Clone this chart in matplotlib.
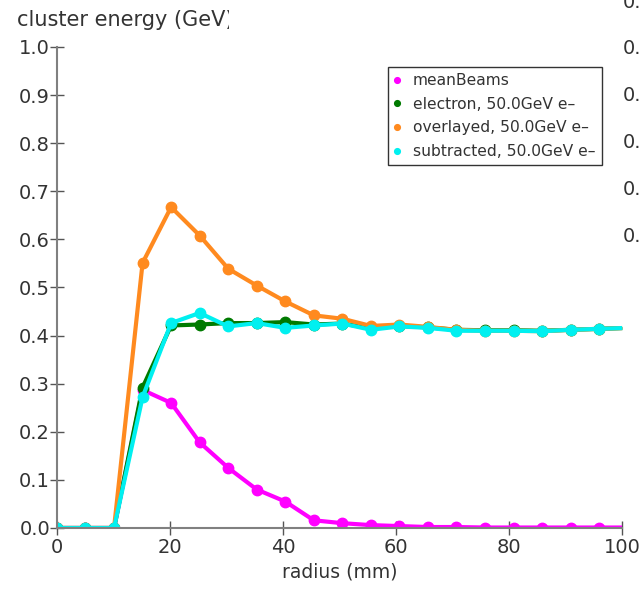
import matplotlib
matplotlib.use("Agg")
import matplotlib.pyplot as plt
from matplotlib.patches import Rectangle
import numpy as np

# radius bins (mm)
radius = [0, 5.05, 10.1, 15.15, 20.2, 25.25, 30.3, 35.35, 40.4, 45.45, 50.5,
          55.55, 60.6, 65.65, 70.7, 75.75, 80.8, 85.85, 90.9, 95.95, 101.0]

mean_beams = [0.0, 0.0, 0.0, 0.287, 0.26, 0.178, 0.125, 0.08, 0.055, 0.016, 0.010,
              0.006, 0.004, 0.002, 0.002, 0.001, 0.001, 0.001, 0.001, 0.001, 0.001]
electron = [0.0, 0.0, 0.0, 0.292, 0.421, 0.423, 0.426, 0.426, 0.428, 0.423, 0.425,
            0.415, 0.42, 0.417, 0.412, 0.411, 0.411, 0.41, 0.412, 0.414, 0.416]
overlayed = [0.0, 0.0, 0.0, 0.551, 0.667, 0.608, 0.539, 0.504, 0.471, 0.442, 0.435,
             0.42, 0.423, 0.418, 0.412, 0.41, 0.41, 0.409, 0.412, 0.414, 0.416]
subtracted = [0.0, 0.0, 0.0, 0.272, 0.426, 0.447, 0.419, 0.426, 0.416, 0.421, 0.425,
              0.412, 0.419, 0.416, 0.410, 0.410, 0.410, 0.409, 0.412, 0.414, 0.416]

series = [
    ("meanBeams", mean_beams, "#ff00ff"),
    ("electron, 50.0GeV e\u2013", electron, "#007a00"),
    ("overlayed, 50.0GeV e\u2013", overlayed, "#ff8a1f"),
    ("subtracted, 50.0GeV e\u2013", subtracted, "#00f0f0"),
]

# tick labels of the neighbouring plot that is cut off on the right
side_labels = ["0.", "0.", "0.", "0.", "0.", "0."]

plt.rcParams['font.family'] = ['DejaVu Sans']
fig = plt.figure(figsize=(6.4, 5.91), dpi=100)
ax = fig.add_axes([0.089, 0.1066, 0.883, 0.814])

for name, vals, col in series:
    ax.plot(radius, vals, color=col, lw=3, marker='o', ms=7.5, label=name,
            solid_joinstyle='round')

ax.set_xlim(0, 100)
ax.set_ylim(0, 1.0)
ax.set_xticks([0, 20, 40, 60, 80, 100])
ax.set_yticks(np.arange(0, 1.01, 0.1))
ax.yaxis.set_major_formatter(matplotlib.ticker.FormatStrFormatter('%.1f'))

for s in ['top', 'right']:
    ax.spines[s].set_visible(False)
for s in ['left', 'bottom']:
    ax.spines[s].set_color('#808080')
    ax.spines[s].set_linewidth(1.5)
ax.tick_params(axis='y', direction='inout', length=10, width=1, color='#555555',
               labelsize=14, labelcolor='#333333', pad=0)
ax.tick_params(axis='x', direction='inout', length=10, width=1, color='#555555',
               labelsize=14, labelcolor='#333333', pad=2)

ax.set_xlabel("radius (mm)", fontsize=13.5, color='#333333', labelpad=4)

# y title sits above the axis and is cut at the right like in the original
fig.text(17 / 640, 1 - 20 / 591, "cluster energy (GeV)", fontsize=15,
         color='#333333', va='center', ha='left')
fig.add_artist(Rectangle((229 / 640, 1 - 40 / 591), 60 / 640, 40 / 591,
                         transform=fig.transFigure, facecolor='white',
                         edgecolor='none', zorder=5))

leg = ax.legend(loc='upper left', bbox_to_anchor=(0.586, 0.958), borderaxespad=0,
                frameon=True, fancybox=False, fontsize=11.2, handlelength=0.4,
                handletextpad=0.8, labelspacing=0.55, borderpad=0.4,
                markerscale=0.55)
leg.get_frame().set_edgecolor('black')
leg.get_frame().set_linewidth(1)
for h in leg.legend_handles:
    h.set_linestyle('None')
for t in leg.get_texts():
    t.set_color('#333333')

for i, lab in enumerate(side_labels):
    fig.text(623 / 640, 1 - (2 + 46.8 * i) / 591, lab, fontsize=14,
             color='#333333', va='center', ha='left')

fig.savefig("out.png", dpi=100)
